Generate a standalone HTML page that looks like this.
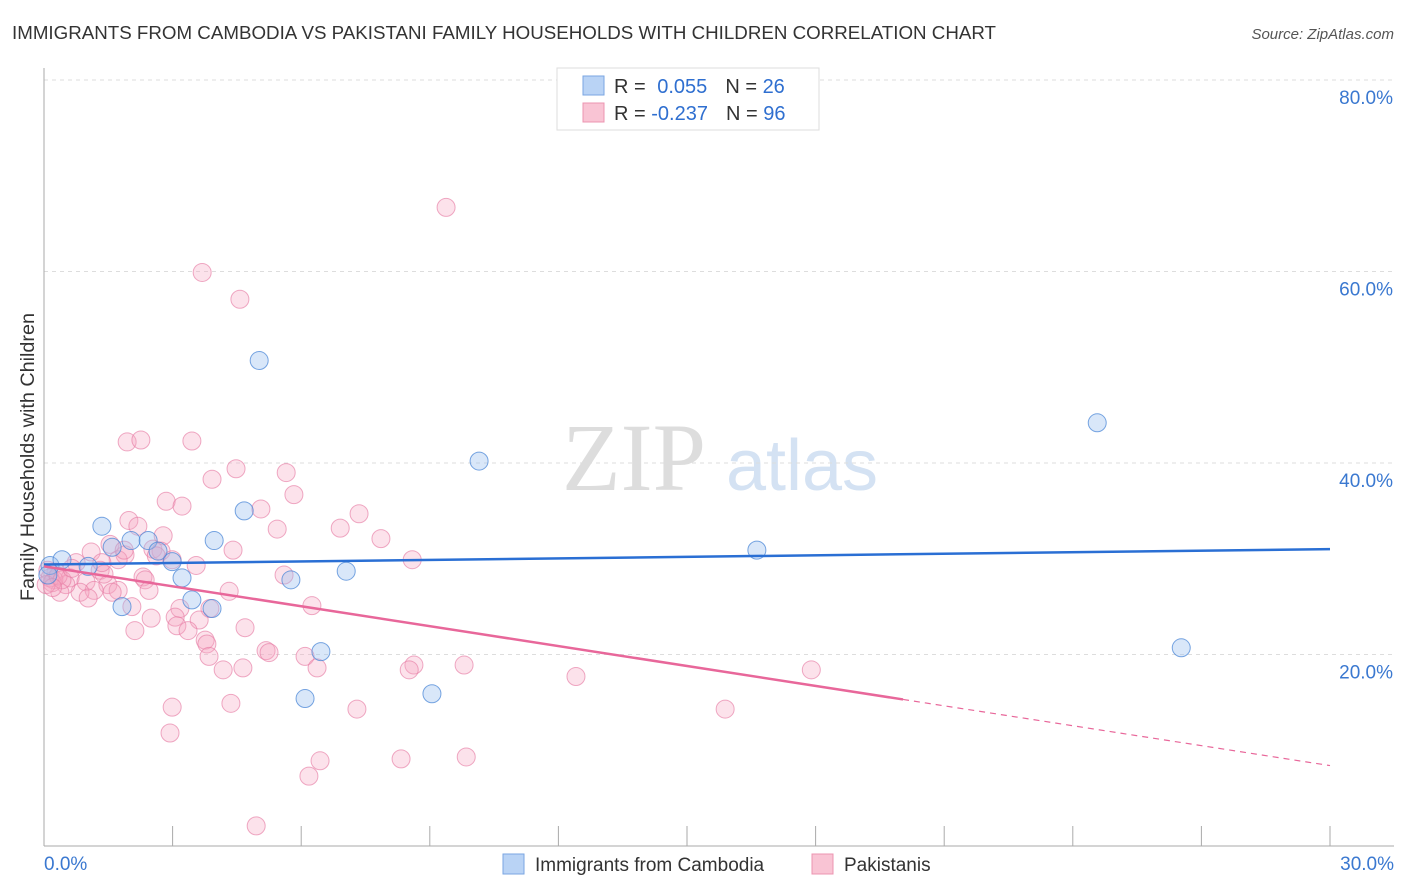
<!DOCTYPE html>
<html><head><meta charset="utf-8"><style>
body{margin:0;background:#fff;font-family:"Liberation Sans",sans-serif;}
svg{display:block}
</style></head><body>
<svg id="chart" width="1406" height="892">
<text x="12" y="39" font-size="18" fill="#333" textLength="984" lengthAdjust="spacingAndGlyphs">IMMIGRANTS FROM CAMBODIA VS PAKISTANI FAMILY HOUSEHOLDS WITH CHILDREN CORRELATION CHART</text>
<text x="1394" y="39" font-size="15" fill="#555" font-style="italic" text-anchor="end">Source: ZipAtlas.com</text>
<text x="34" y="457" font-size="19" fill="#333" text-anchor="middle" textLength="288" lengthAdjust="spacingAndGlyphs" transform="rotate(-90 34 457)">Family Households with Children</text>
<g>
<text x="634" y="490" font-family="Liberation Serif,serif" font-size="96" fill="#ddd" text-anchor="middle">ZIP</text>
<text x="802" y="490" font-size="72" fill="#d4e2f3" text-anchor="middle">atlas</text>
</g>
<g id="grid"></g><g id="axes"></g><g id="pts"></g><g id="lines"></g>
<g>
<rect x="557" y="68" width="262" height="62" fill="#fff" stroke="#ddd"/>
<rect x="583" y="76" width="21" height="19" fill="#b9d3f5" stroke="#7aa6e2"/>
<text x="614" y="93" font-size="20" fill="#333">R = <tspan fill="#2f6fd0" dx="6">0.055</tspan><tspan fill="#333" dx="18">N = </tspan><tspan fill="#2f6fd0">26</tspan></text>
<rect x="583" y="103" width="21" height="19" fill="#f9c4d4" stroke="#ec94b0"/>
<text x="614" y="120" font-size="20" fill="#333">R = <tspan fill="#2f6fd0">-0.237</tspan><tspan fill="#333" dx="18">N = </tspan><tspan fill="#2f6fd0">96</tspan></text>
</g>
<g>
<rect x="503" y="854" width="21" height="20" fill="#b9d3f5" stroke="#7aa6e2"/>
<text x="535" y="871" font-size="19" fill="#333">Immigrants from Cambodia</text>
<rect x="812" y="854" width="21" height="20" fill="#f9c4d4" stroke="#ec94b0"/>
<text x="844" y="871" font-size="19" fill="#333">Pakistanis</text>
</g>
</svg>
<script>
const yTicks=[20,40,60,80];
const yTickLabels=["20.0%","40.0%","60.0%","80.0%"];
const xTickLabels=["0.0%","30.0%"];
const blueX=[0.14,0.42,1.35,1.03,1.59,1.82,2.03,2.43,2.66,2.99,3.22,3.45,3.92,3.97,4.67,5.02,5.76,6.09,6.46,7.05,9.05,10.15,16.63,24.57,26.53,0.09];
const blueY=[29.3,29.9,33.4,29.2,31.2,25.0,31.9,31.9,30.8,29.7,28.0,25.7,24.8,31.9,35.0,50.7,27.8,15.4,20.3,28.7,15.9,40.2,30.9,44.2,20.7,28.3];
const pinkX=[9.38,3.69,4.57,1.94,2.26,3.45,4.48,3.92,5.65,5.83,2.85,3.22,5.06,7.35,1.98,2.19,5.44,6.91,2.78,7.86,1.54,4.41,1.89,1.10,2.54,2.73,8.59,3.55,0.75,1.73,1.31,2.31,2.36,0.28,0.61,0.98,1.49,1.17,1.73,0.84,0.51,0.23,0.37,2.45,4.32,2.05,3.17,6.25,3.87,2.50,3.06,3.62,3.10,2.12,3.36,4.69,3.76,3.80,5.18,5.25,3.85,6.09,6.37,4.64,4.18,8.63,8.52,9.80,12.41,17.9,2.99,4.36,7.30,15.89,2.94,6.44,8.33,9.85,6.18,4.95,0.09,0.14,0.19,0.05,0.33,0.42,0.65,1.40,1.03,1.59,1.87,2.99,1.35,2.62,5.6,0.2];
const pinkY=[66.7,59.9,57.1,42.2,42.4,42.3,39.4,38.3,39.0,36.7,36.0,35.5,35.2,34.7,34.0,33.4,33.1,33.2,32.4,32.1,31.5,30.9,30.4,30.7,31.0,30.8,29.9,29.3,29.6,29.9,28.8,28.1,27.8,28.6,28.0,27.6,27.3,26.7,26.7,26.5,27.3,27.8,26.5,26.7,26.6,25.0,24.8,25.1,24.8,23.8,23.9,23.6,23.0,22.5,22.5,22.8,21.5,21.1,20.4,20.2,19.8,19.8,18.6,18.6,18.4,18.9,18.4,18.9,17.7,18.4,14.5,14.9,14.3,14.3,11.8,8.9,9.1,9.3,7.3,2.1,28.8,28.0,27.5,27.3,28.2,27.8,29.0,28.4,25.9,26.5,30.9,29.9,29.6,30.3,28.3,27.0];
const blueTrend=[29.4,31.0];
const pinkTrend=[29.2,8.4];
const pinkSolidEnd=20.04;
const NS="http://www.w3.org/2000/svg";
const sx=v=>44+v/30*1286;
const sy=v=>846-v/20*191.5;
function mk(tag,attrs,parent){const e=document.createElementNS(NS,tag);for(const k in attrs)e.setAttribute(k,attrs[k]);parent.appendChild(e);return e;}
const grid=document.getElementById('grid'),axes=document.getElementById('axes'),pts=document.getElementById('pts'),lines=document.getElementById('lines');
yTicks.forEach((t,i)=>{
 const l=mk('line',{x1:44,x2:1394,y1:sy(t),y2:sy(t),stroke:'#ddd','stroke-dasharray':'4,4'},grid);
 
 
 const tx=mk('text',{x:1393,y:sy(t)+24,'font-size':19,fill:'#3a78d0','text-anchor':'end'},axes);
 tx.textContent=yTickLabels[i];
 
 
});
let a=mk('line',{x1:44,x2:44,y1:68,y2:846,stroke:'#aaa'},axes);


a=mk('line',{x1:44,x2:1394,y1:846,y2:846,stroke:'#aaa'},axes);


for(let i=0;i<=10;i++){const t=mk('line',{x1:sx(i*3),x2:sx(i*3),y1:826,y2:846,stroke:'#aaa'},axes);
 
 }
[[0,'start',44],[30,'end',1394]].forEach((d,i)=>{const tx=mk('text',{x:d[2],y:870,'font-size':19,fill:'#3a78d0','text-anchor':d[1]},axes);tx.textContent=xTickLabels[i];
 
 });
pinkX.forEach((x,i)=>{const c=mk('circle',{cx:sx(x),cy:sy(pinkY[i]),r:9,fill:'rgba(245,165,192,0.32)',stroke:'rgba(230,125,165,0.65)','stroke-width':1},pts);
 
 });
blueX.forEach((x,i)=>{const c=mk('circle',{cx:sx(x),cy:sy(blueY[i]),r:9,fill:'rgba(155,192,240,0.38)',stroke:'rgba(75,135,215,0.75)','stroke-width':1},pts);
 
 });
const pAt=x=>pinkTrend[0]+(pinkTrend[1]-pinkTrend[0])*x/30;
let ln=mk('line',{x1:sx(0),y1:sy(blueTrend[0]),x2:sx(30),y2:sy(blueTrend[1]),stroke:'#2a6fd4','stroke-width':2.5},lines);


ln=mk('line',{x1:sx(0),y1:sy(pAt(0)),x2:sx(pinkSolidEnd),y2:sy(pAt(pinkSolidEnd)),stroke:'#e8679a','stroke-width':2.5},lines);


ln=mk('line',{x1:sx(pinkSolidEnd),y1:sy(pAt(pinkSolidEnd)),x2:sx(30),y2:sy(pAt(30)),stroke:'#e8679a','stroke-width':1.2,'stroke-dasharray':'6,5'},lines);


</script>
</body></html>
